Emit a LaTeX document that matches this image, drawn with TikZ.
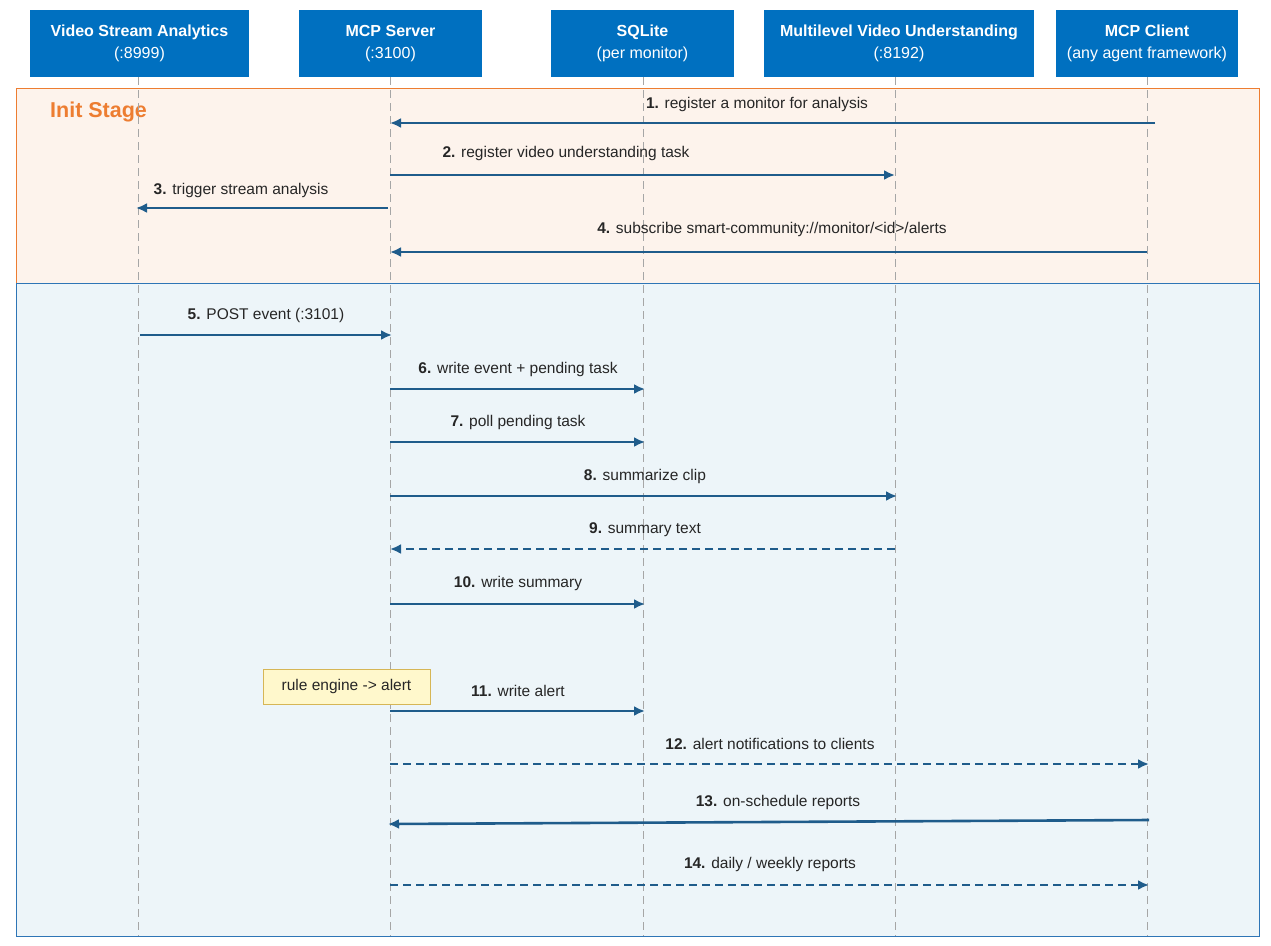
\documentclass[tikz,border=0pt]{standalone}
\usepackage{fontspec}
\setmainfont{Liberation Sans}
\usetikzlibrary{arrows.meta}
\definecolor{hdr}{HTML}{0070C0}
\definecolor{arr}{HTML}{1F5C8B}
\definecolor{initfill}{HTML}{FDF3EC}
\definecolor{initdraw}{HTML}{ED7D31}
\definecolor{mainfill}{HTML}{EDF5F9}
\definecolor{maindraw}{HTML}{2E75B6}
\definecolor{notefill}{HTML}{FFF8CC}
\definecolor{notedraw}{HTML}{D6B656}
\tikzset{
  hbox/.style={fill=hdr,text=white,align=center,inner sep=0pt,font=\fontsize{16}{22}\selectfont},
  life/.style={draw=gray!70,dash pattern=on 8pt off 5pt,line width=1pt},
  msg/.style={draw=arr,line width=2.6pt,-{Latex[length=11pt,width=10pt]}},
  rmsg/.style={msg,dash pattern=on 8pt off 5pt},
  lbl/.style={font=\fontsize{15.5}{18}\selectfont,text=black!85,inner sep=1pt},
}
\begin{document}
\begin{tikzpicture}[x=1pt,y=-1pt]
\useasboundingbox (0,0) rectangle (1271,945);
\fill[white] (0,0) rectangle (1271,945);
\draw[fill=initfill,draw=initdraw,line width=1pt] (16,88) rectangle (1259,283);
\draw[fill=mainfill,draw=maindraw,line width=1pt] (16,283) rectangle (1259,936);
\node[anchor=west,text=initdraw,font=\fontsize{21.5}{24}\selectfont\bfseries,inner sep=0pt] (init) at (50,112) {Init Stage};
\node[hbox,minimum width=219pt,minimum height=67pt] (h1) at (139.5,43.5) {\textbf{Video Stream Analytics}\\(:8999)};
\node[hbox,minimum width=183pt,minimum height=67pt] (h2) at (390.5,43.5) {\textbf{MCP Server}\\(:3100)};
\node[hbox,minimum width=183pt,minimum height=67pt] (h3) at (642.5,43.5) {\textbf{SQLite}\\(per monitor)};
\node[hbox,minimum width=270pt,minimum height=67pt] (h4) at (899,43.5) {\textbf{Multilevel Video Understanding}\\(:8192)};
\node[hbox,minimum width=182pt,minimum height=67pt] (h5) at (1147,43.5) {\textbf{MCP Client}\\(any agent framework)};
\foreach \n/\x in {a/138,b/390,c/643,d/895,e/1147}{
  \coordinate (\n top) at (\x,77);
  \coordinate (\n bot) at (\x,936);
  \draw[life] (\n top) -- (\n bot);
}
\coordinate (m1s) at (1155,123); \coordinate (m1e) at (390,123);
\coordinate (m2s) at (390,175); \coordinate (m2e) at (895,175);
\coordinate (m3s) at (388,208); \coordinate (m3e) at (136,208);
\coordinate (m4s) at (1147,252); \coordinate (m4e) at (390,252);
\coordinate (m5s) at (140,335); \coordinate (m5e) at (392,335);
\coordinate (m6s) at (390,389); \coordinate (m6e) at (645,389);
\coordinate (m7s) at (390,442); \coordinate (m7e) at (645,442);
\coordinate (m8s) at (390,496); \coordinate (m8e) at (897,496);
\coordinate (m9s) at (895,549); \coordinate (m9e) at (390,549);
\coordinate (m10s) at (390,604); \coordinate (m10e) at (645,604);
\coordinate (m11s) at (390,711); \coordinate (m11e) at (645,711);
\coordinate (m12s) at (390,764); \coordinate (m12e) at (1149,764);
\coordinate (m13s) at (1149,820); \coordinate (m13e) at (388,824);
\coordinate (m14s) at (390,885); \coordinate (m14e) at (1149,885);
\draw[msg] (m1s) -- (m1e);
\draw[msg] (m2s) -- (m2e);
\draw[msg] (m3s) -- (m3e);
\draw[msg] (m4s) -- (m4e);
\draw[msg] (m5s) -- (m5e);
\draw[msg] (m6s) -- (m6e);
\draw[msg] (m7s) -- (m7e);
\draw[msg] (m8s) -- (m8e);
\draw[rmsg] (m9s) -- (m9e);
\draw[msg] (m10s) -- (m10e);
\draw[msg] (m11s) -- (m11e);
\draw[rmsg] (m12s) -- (m12e);
\draw[msg] (m13s) -- (m13e);
\draw[rmsg] (m14s) -- (m14e);
\node[lbl] (l1) at (757,104) {\textbf{1.} register a monitor for analysis};
\node[lbl] (l2) at (566,153) {\textbf{2.} register video understanding task};
\node[lbl] (l3) at (241,190) {\textbf{3.} trigger stream analysis};
\node[lbl] (l4) at (772,229) {\textbf{4.} subscribe smart-community://monitor/<id>/alerts};
\node[lbl] (l5) at (266,315) {\textbf{5.} POST event (:3101)};
\node[lbl] (l6) at (518,369) {\textbf{6.} write event + pending task};
\node[lbl] (l7) at (518,422) {\textbf{7.} poll pending task};
\node[lbl] (l8) at (645,476) {\textbf{8.} summarize clip};
\node[lbl] (l9) at (645,530) {\textbf{9.} summary text};
\node[lbl] (l10) at (518,583) {\textbf{10.} write summary};
\node[lbl] (l11) at (518,691) {\textbf{11.} write alert};
\node[lbl] (l12) at (770,744) {\textbf{12.} alert notifications to clients};
\node[lbl] (l13) at (778,802) {\textbf{13.} on-schedule reports};
\node[lbl] (l14) at (770,864) {\textbf{14.} daily / weekly reports};
\node[lbl,draw=notedraw,fill=notefill,minimum width=167pt,minimum height=35pt,line width=1pt] (note) at (346.5,686.5) {rule engine -> alert};
\end{tikzpicture}
\end{document}
